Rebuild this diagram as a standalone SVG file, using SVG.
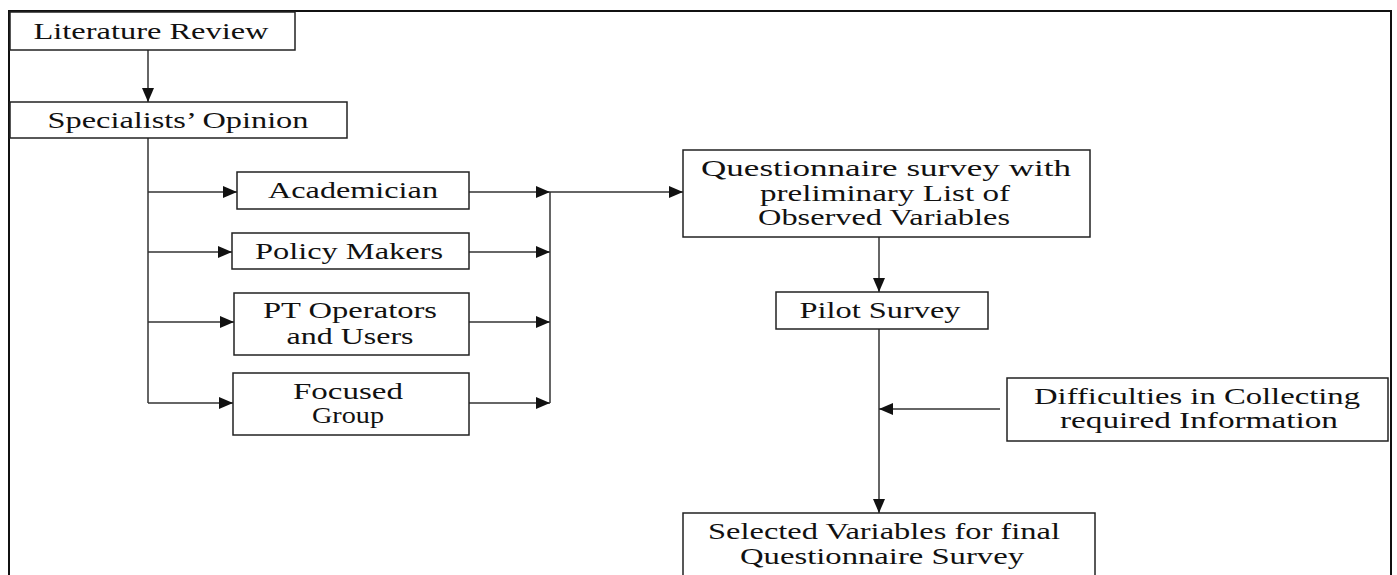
<svg xmlns="http://www.w3.org/2000/svg" width="1397" height="575" viewBox="0 0 1397 575">
<style>
.box{fill:#fff;stroke:#222;stroke-width:1.5}
.t{font-family:"Liberation Serif","Times New Roman",serif;font-size:23.5px;fill:#111;text-anchor:middle}
.c{stroke:#333;stroke-width:1.5;fill:none}
.a{marker-end:url(#ah)}
</style>
<defs>
<marker id="ah" markerUnits="userSpaceOnUse" markerWidth="14" markerHeight="12" refX="14" refY="6" orient="auto">
<path d="M0,0 L14,6 L0,12 Z" fill="#111"/>
</marker>
</defs>
<rect x="0" y="0" width="1397" height="575" fill="#fff"/>
<rect x="9" y="11" width="1382" height="600" fill="none" stroke="#111" stroke-width="2"/>
<g id="connectors">
<line class="c a" x1="148" y1="50" x2="148" y2="102"/>
<line class="c" x1="148" y1="138" x2="148" y2="403"/>
<line class="c a" x1="148" y1="192" x2="237" y2="192"/>
<line class="c a" x1="148" y1="252" x2="232" y2="252"/>
<line class="c a" x1="148" y1="322" x2="234" y2="322"/>
<line class="c a" x1="148" y1="403" x2="233" y2="403"/>
<line class="c a" x1="469" y1="192" x2="550" y2="192"/>
<line class="c a" x1="469" y1="252" x2="550" y2="252"/>
<line class="c a" x1="469" y1="322" x2="550" y2="322"/>
<line class="c a" x1="469" y1="403" x2="550" y2="403"/>
<line class="c" x1="550" y1="192" x2="550" y2="403"/>
<line class="c a" x1="550" y1="192" x2="683" y2="192"/>
<line class="c a" x1="879" y1="237" x2="879" y2="292"/>
<line class="c a" x1="879" y1="329" x2="879" y2="513"/>
<line class="c a" x1="1000" y1="409" x2="879" y2="409"/>
</g>
<g id="literature-review">
<rect class="box" x="10" y="12" width="285" height="38"/>
<text class="t" x="151" y="39" textLength="235" lengthAdjust="spacingAndGlyphs">Literature Review</text>
</g>
<g id="specialists-opinion">
<rect class="box" x="10" y="102" width="337" height="36"/>
<text class="t" x="178" y="128" textLength="261" lengthAdjust="spacingAndGlyphs">Specialists’ Opinion</text>
</g>
<g id="academician">
<rect class="box" x="237" y="172" width="232" height="37"/>
<text class="t" x="353" y="198" textLength="170" lengthAdjust="spacingAndGlyphs">Academician</text>
</g>
<g id="policy-makers">
<rect class="box" x="232" y="233" width="237" height="36"/>
<text class="t" x="349" y="259" textLength="188" lengthAdjust="spacingAndGlyphs">Policy Makers</text>
</g>
<g id="pt-operators">
<rect class="box" x="234" y="293" width="235" height="62"/>
<text class="t" x="350" y="318" textLength="174" lengthAdjust="spacingAndGlyphs">PT Operators</text>
<text class="t" x="350" y="344" textLength="127" lengthAdjust="spacingAndGlyphs">and Users</text>
</g>
<g id="focused-group">
<rect class="box" x="233" y="373" width="236" height="62"/>
<text class="t" x="348" y="399" textLength="110" lengthAdjust="spacingAndGlyphs">Focused</text>
<text class="t" x="348" y="423" textLength="72" lengthAdjust="spacingAndGlyphs">Group</text>
</g>
<g id="questionnaire">
<rect class="box" x="683" y="150" width="407" height="87"/>
<text class="t" x="886" y="176" textLength="370" lengthAdjust="spacingAndGlyphs">Questionnaire survey with</text>
<text class="t" x="885" y="201" textLength="250" lengthAdjust="spacingAndGlyphs">preliminary List of</text>
<text class="t" x="884" y="225" textLength="252" lengthAdjust="spacingAndGlyphs">Observed Variables</text>
</g>
<g id="pilot-survey">
<rect class="box" x="776" y="292" width="212" height="37"/>
<text class="t" x="880" y="318" textLength="161" lengthAdjust="spacingAndGlyphs">Pilot Survey</text>
</g>
<g id="difficulties">
<rect class="box" x="1007" y="378" width="381" height="63"/>
<text class="t" x="1197" y="404" textLength="326" lengthAdjust="spacingAndGlyphs">Difficulties  in Collecting</text>
<text class="t" x="1199" y="428" textLength="278" lengthAdjust="spacingAndGlyphs">required Information</text>
</g>
<g id="selected-variables">
<rect class="box" x="683" y="513" width="412" height="80"/>
<text class="t" x="884" y="539" textLength="352" lengthAdjust="spacingAndGlyphs">Selected Variables for final</text>
<text class="t" x="882" y="564" textLength="284" lengthAdjust="spacingAndGlyphs">Questionnaire Survey</text>
</g>
</svg>
